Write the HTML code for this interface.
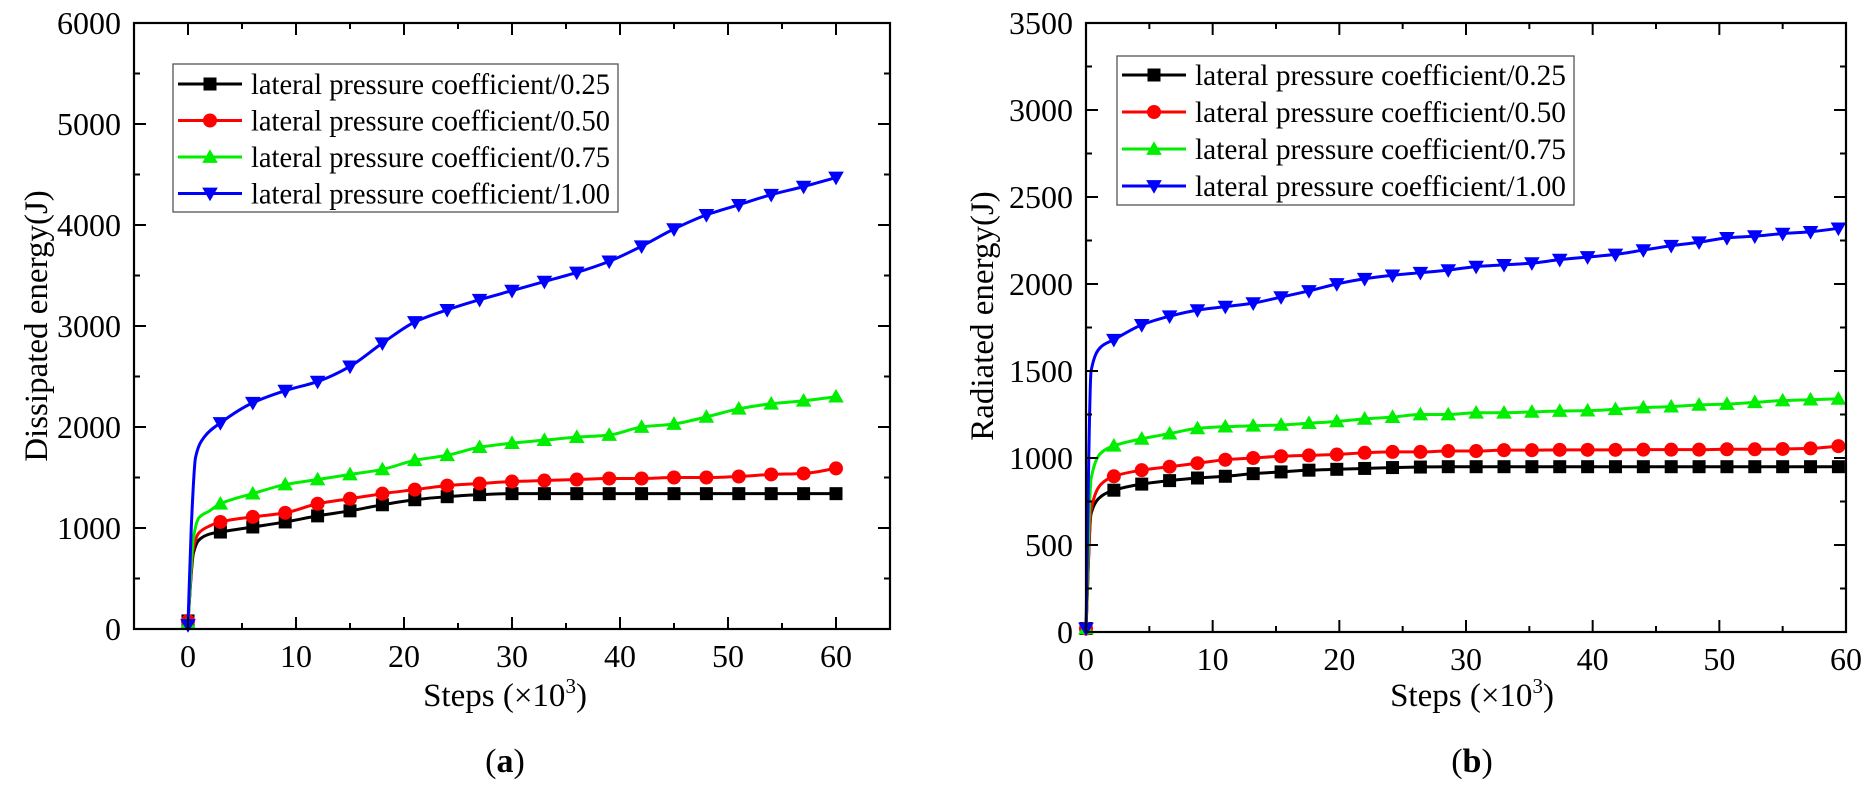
<!DOCTYPE html>
<html><head><meta charset="utf-8"><style>
html,body{margin:0;padding:0;background:#fff;}
svg{display:block;}
svg text{font-family:"Liberation Serif","Times New Roman",serif;}
</style></head><body>
<svg id="fig" width="1872" height="792" viewBox="0 0 1872 792" xmlns="http://www.w3.org/2000/svg" font-family="Liberation Serif, serif"></svg>
<script>
// ---------- Chart (a): Dissipated energy ----------
const aSeriesNames = ["lateral pressure coefficient/0.25","lateral pressure coefficient/0.50","lateral pressure coefficient/0.75","lateral pressure coefficient/1.00"];
const aX = [0,0.5,1,2,3,6,9,12,15,18,21,24,27,30,33,36,39,42,45,48,51,54,57,60];
const aBlackY = [80,750,880,940,960,1010,1060,1120,1170,1230,1280,1310,1330,1340,1340,1340,1340,1340,1340,1340,1340,1340,1340,1340];
const aRedY   = [80,800,950,1020,1060,1110,1150,1240,1290,1340,1380,1420,1440,1460,1470,1480,1490,1490,1500,1500,1510,1530,1540,1590];
const aGreenY = [60,900,1100,1170,1240,1340,1430,1480,1530,1580,1670,1720,1800,1840,1870,1900,1920,2000,2030,2100,2180,2230,2260,2300];
const aBlueX = [0,0.3,0.7,1.5,3,6,9,12,15,18,21,24,27,30,33,36,39,42,45,48,51,54,57,60];
const aBlueY = [40,1000,1700,1900,2040,2240,2360,2450,2600,2830,3040,3160,3260,3350,3440,3530,3640,3790,3960,4100,4200,4300,4380,4470];
const aXTicks = [0,10,20,30,40,50,60];
const aYTicks = [0,1000,2000,3000,4000,5000,6000];

// ---------- Chart (b): Radiated energy ----------
const bX = [0,0.4,1.2,2.2,4.4,6.6,8.8,11,13.2,15.4,17.6,19.8,22,24.2,26.4,28.6,30.8,33,35.2,37.4,39.6,41.8,44,46.2,48.4,50.6,52.8,55,57.2,59.4];
const bBlackY = [20,680,780,815,850,870,885,895,910,920,930,935,940,945,948,950,950,950,950,950,950,950,950,950,950,950,950,950,950,950];
const bRedY   = [20,700,850,895,930,950,970,990,1000,1010,1015,1020,1030,1035,1035,1040,1040,1045,1045,1047,1047,1047,1048,1048,1048,1050,1050,1052,1055,1068];
const bGreenY = [20,880,1030,1070,1110,1140,1170,1180,1185,1190,1200,1210,1225,1235,1250,1250,1260,1260,1265,1270,1272,1280,1290,1295,1305,1310,1320,1330,1335,1340];
const bBlueY  = [20,1500,1640,1680,1765,1815,1850,1870,1890,1925,1960,2000,2030,2050,2065,2080,2100,2110,2120,2140,2155,2170,2195,2220,2240,2265,2275,2290,2300,2320];
const bXTicks = [0,10,20,30,40,50,60];
const bYTicks = [0,500,1000,1500,2000,2500,3000,3500];

const NS = "http://www.w3.org/2000/svg";
const svg = document.getElementById("fig");
function el(tag, attrs, parent) {
  const e = document.createElementNS(NS, tag);
  for (const k in attrs) e.setAttribute(k, attrs[k]);
  if (tag === "text") e.setAttribute("font-family", "Liberation Serif, serif");
  (parent || svg).appendChild(e);
  return e;
}
const colors = ["#000000","#ff0000","#00ee00","#0000ff"];
const markers = ["square","circle","triangle-up","triangle-down"];

// monotone cubic interpolation (no overshoot)
function smoothPath(pts) {
  const n = pts.length;
  const dx = [], m = [];
  for (let i = 0; i < n - 1; i++) { dx.push(pts[i+1][0] - pts[i][0]); m.push((pts[i+1][1] - pts[i][1]) / dx[i]); }
  const t = [m[0]];
  for (let i = 1; i < n - 1; i++) {
    if (m[i-1] * m[i] <= 0) t.push(0);
    else { const w1 = 2*dx[i] + dx[i-1], w2 = dx[i] + 2*dx[i-1]; t.push((w1 + w2) / (w1 / m[i-1] + w2 / m[i])); }
  }
  t.push(m[n-2]);
  let d = "M" + pts[0][0] + "," + pts[0][1];
  for (let i = 0; i < n - 1; i++) {
    const h = dx[i] / 3;
    d += " C" + (pts[i][0] + h) + "," + (pts[i][1] + t[i]*h) + " " + (pts[i+1][0] - h) + "," + (pts[i+1][1] - t[i+1]*h) + " " + pts[i+1][0] + "," + pts[i+1][1];
  }
  return d;
}
function drawMarker(g, type, x, y, c, s) {
  let m;
  if (type === "square") m = el("rect", {x: x - s/2, y: y - s/2, width: s, height: s, fill: c}, g);
  else if (type === "circle") m = el("circle", {cx: x, cy: y, r: s/2 + 0.5, fill: c}, g);
  else if (type === "triangle-up") m = el("polygon", {points: `${x},${y - s*0.6} ${x - s*0.6},${y + s*0.45} ${x + s*0.6},${y + s*0.45}`, fill: c}, g);
  else m = el("polygon", {points: `${x},${y + s*0.6} ${x - s*0.6},${y - s*0.45} ${x + s*0.6},${y - s*0.45}`, fill: c}, g);
  return m;
}

function drawChart(cfg) {
  const g = el("g", {});
  
  
  const sx = v => cfg.x0 + (v - cfg.xmin) / (cfg.xmax - cfg.xmin) * (cfg.x1 - cfg.x0);
  const sy = v => cfg.y0 - (v - cfg.ymin) / (cfg.ymax - cfg.ymin) * (cfg.y0 - cfg.y1);

  cfg.series.forEach((s, i) => {
    const sg = el("g", {}, g);
    
    
    const pts = s.x.map((xv, j) => [sx(xv), sy(s.y[j])]);
    const p = el("path", {d: smoothPath(pts), fill: "none", stroke: colors[i], "stroke-width": 3, "stroke-linejoin": "round"}, sg);
    
    
    s.x.forEach((xv, j) => {
      if (!s.mark(xv, j)) return;
      const m = drawMarker(sg, markers[i], sx(xv), sy(s.y[j]), colors[i], 13);
      
      
    });
  });

  const fr = el("rect", {x: cfg.x0, y: cfg.y1, width: cfg.x1 - cfg.x0, height: cfg.y0 - cfg.y1, fill: "none", stroke: "#000", "stroke-width": 2.2}, g);
  
  

  for (let v = cfg.xMinorStart; v <= cfg.xmax + 1e-6; v += cfg.xMinor) {
    const major = Math.abs(v / cfg.xMajor - Math.round(v / cfg.xMajor)) < 1e-6;
    const L = major ? 12 : 6, X = sx(v);
    el("line", {x1: X, x2: X, y1: cfg.y0, y2: cfg.y0 - L, stroke: "#000", "stroke-width": 2}, g);
    el("line", {x1: X, x2: X, y1: cfg.y1, y2: cfg.y1 + L, stroke: "#000", "stroke-width": 2}, g);
  }
  cfg.xTicks.forEach(v => {
    const t = el("text", {x: sx(v), y: cfg.y0 + 38, "text-anchor": "middle", "font-size": 32}, g);
    t.textContent = v;
    
    
  });
  for (let v = cfg.ymin; v <= cfg.ymax + 1e-6; v += cfg.yMinor) {
    const major = Math.abs(v / cfg.yMajor - Math.round(v / cfg.yMajor)) < 1e-6;
    const L = major ? 12 : 6, Y = sy(v);
    el("line", {x1: cfg.x0, x2: cfg.x0 + L, y1: Y, y2: Y, stroke: "#000", "stroke-width": 2}, g);
    el("line", {x1: cfg.x1, x2: cfg.x1 - L, y1: Y, y2: Y, stroke: "#000", "stroke-width": 2}, g);
  }
  cfg.yTicks.forEach(v => {
    const t = el("text", {x: cfg.x0 - 13, y: sy(v) + 11, "text-anchor": "end", "font-size": 32}, g);
    t.textContent = v;
    
    
  });
  const xt = el("text", {x: cfg.xTitleX, y: 706, "text-anchor": "middle", "font-size": 33}, g);
  xt.innerHTML = 'Steps (×10<tspan dy="-13" font-size="21">3</tspan><tspan dy="13">)</tspan>';
  
  
  const yt = el("text", {x: 0, y: 0, "text-anchor": "middle", "font-size": 33, transform: `translate(${cfg.yTitleX},${cfg.yTitleY}) rotate(-90)`}, g);
  yt.textContent = cfg.yTitle;
  
  
  const cap = el("text", {x: cfg.xTitleX, y: 772, "text-anchor": "middle", "font-size": 34}, g);
  cap.innerHTML = '(<tspan font-weight="bold">' + cfg.cap + '</tspan>)';
  
  

  const lg = el("g", {}, g);
  
  
  el("rect", {x: cfg.lg.x, y: cfg.lg.y, width: cfg.lg.w, height: cfg.lg.h, fill: "#fff", stroke: "#555", "stroke-width": 1.3}, lg);
  aSeriesNames.forEach((n, i) => {
    const eg = el("g", {}, lg);
    
    
    const yy = cfg.lg.y + cfg.lg.first + i * cfg.lg.step;
    el("line", {x1: cfg.lg.x + 5, x2: cfg.lg.x + 69, y1: yy, y2: yy, stroke: colors[i], "stroke-width": 3}, eg);
    drawMarker(eg, markers[i], cfg.lg.x + 37, yy, colors[i], 13);
    const t = el("text", {x: cfg.lg.x + 78, y: yy + 10, "font-size": 30, textLength: cfg.lg.w - 86, lengthAdjust: "spacingAndGlyphs"}, eg);
    t.textContent = n;
  });
}

const every3 = (x) => Math.abs(x / 3 - Math.round(x / 3)) < 1e-6;
drawChart({
  name: "chart-a-dissipated-energy", x0: 134, x1: 890, y0: 629, y1: 23,
  xmin: -5, xmax: 65, ymin: 0, ymax: 6000, xMajor: 10, xMinor: 5, xMinorStart: -5,
  yMajor: 1000, yMinor: 500, xTicks: aXTicks, yTicks: aYTicks,
  yTitle: "Dissipated energy(J)", yTitleX: 47, yTitleY: 326, xTitleX: 505, cap: "a",
  lg: {x: 173, y: 64, w: 445, h: 148, first: 20, step: 36.5},
  series: [
    {key: "0.25", x: aX, y: aBlackY, mark: every3},
    {key: "0.50", x: aX, y: aRedY, mark: every3},
    {key: "0.75", x: aX, y: aGreenY, mark: every3},
    {key: "1.00", x: aBlueX, y: aBlueY, mark: every3}
  ]
});
const bMark = (x, j) => j === 0 || j >= 3;
drawChart({
  name: "chart-b-radiated-energy", x0: 1086, x1: 1846, y0: 632, y1: 23,
  xmin: 0, xmax: 60, ymin: 0, ymax: 3500, xMajor: 10, xMinor: 5, xMinorStart: 0,
  yMajor: 500, yMinor: 250, xTicks: bXTicks, yTicks: bYTicks,
  yTitle: "Radiated energy(J)", yTitleX: 993, yTitleY: 316, xTitleX: 1472, cap: "b",
  lg: {x: 1117, y: 56, w: 457, h: 149, first: 19, step: 37},
  series: [
    {key: "0.25", x: bX, y: bBlackY, mark: bMark},
    {key: "0.50", x: bX, y: bRedY, mark: bMark},
    {key: "0.75", x: bX, y: bGreenY, mark: bMark},
    {key: "1.00", x: bX, y: bBlueY, mark: bMark}
  ]
});
</script>
</body></html>
